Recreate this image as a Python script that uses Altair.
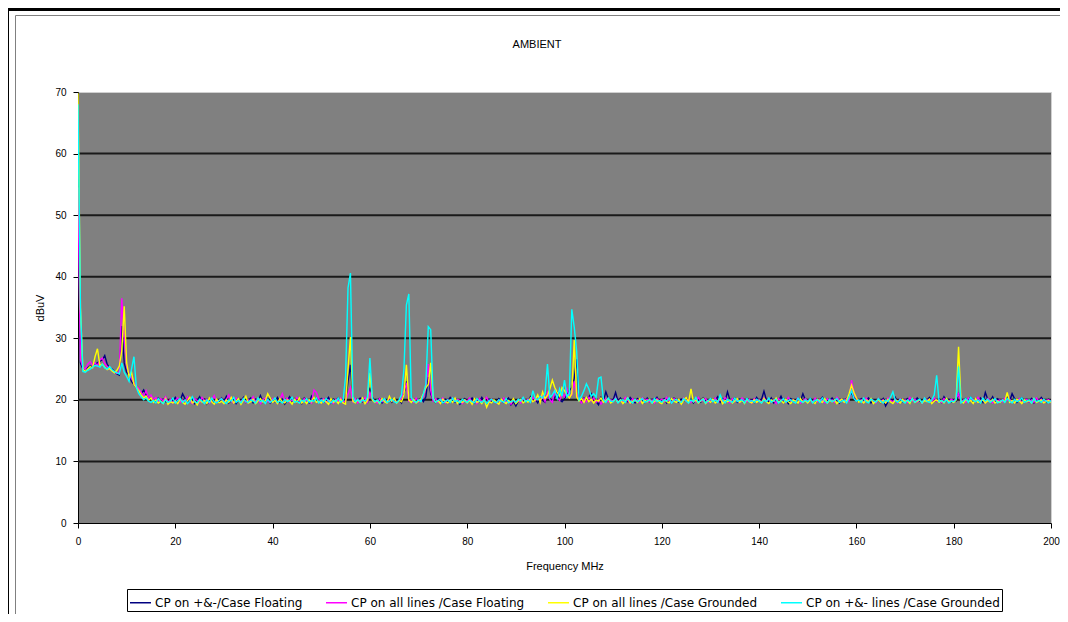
import altair as alt
import pandas as pd

# ---------------- data ----------------
series_names = [
    "CP on +&-/Case Floating",
    "CP on all lines /Case Floating",
    "CP on all lines /Case Grounded",
    "CP on +&- lines /Case Grounded",
]
series_colors = ["#000080", "#FF00FF", "#FFFF00", "#00FFFF"]
x_ticks = [0, 20, 40, 60, 80, 100, 120, 140, 160, 180, 200]
y_ticks = [0, 10, 20, 30, 40, 50, 60, 70]
grid_levels = [10, 20, 30, 40, 50, 60]
chart_title = "AMBIENT"
freq_start = 0.0
freq_step = 0.5  # MHz between samples

cp_pm_floating = [
    55.5, 26.0, 25.0, 24.8, 25.2, 25.5, 25.4, 25.8, 26.0, 26.3, 26.5, 27.2, 25.8, 25.2, 25.0, 24.6, 24.2, 24.0, 32.0, 26.0,
    24.5, 24.0, 23.0, 22.5, 22.0, 21.5, 21.0, 21.6, 20.8, 20.5, 20.2, 20.0, 19.8, 20.3, 19.6, 20.1, 19.7, 19.5, 20.0, 19.8,
    20.4, 19.6, 19.9, 21.0, 20.2, 19.5, 19.8, 20.3, 19.4, 19.9, 20.5, 19.7, 20.1, 19.3, 19.8, 20.2, 19.6, 20.0, 19.5, 20.3,
    19.8, 20.6, 19.5, 19.9, 20.2, 19.4, 20.0, 19.7, 20.4, 19.6, 19.9, 20.3, 19.5, 20.1, 19.8, 20.7, 19.6, 19.9, 20.2, 19.5,
    20.0, 19.7, 20.4, 19.6, 20.1, 19.3, 19.9, 20.5, 19.7, 20.2, 19.6, 20.0, 19.4, 20.3, 19.8, 19.5, 20.6, 19.9, 20.1, 19.7,
    20.2, 19.6, 19.9, 20.4, 19.5, 20.1, 19.8, 20.3, 19.7, 20.0, 19.6, 23.0, 25.7, 20.2, 19.5, 19.9, 20.3, 19.7, 20.0, 19.6,
    22.0, 20.4, 19.7, 19.9, 20.2, 19.5, 20.0, 19.8, 20.3, 19.6, 20.1, 19.7, 20.0, 19.5, 21.0, 23.0, 20.2, 19.8, 20.1, 19.6,
    19.9, 20.3, 19.7, 20.5, 23.7, 21.0, 20.0, 19.6, 20.2, 19.8, 19.5, 20.1, 19.7, 20.4, 19.9, 19.6, 20.0, 19.3, 19.8, 20.2,
    19.6, 19.9, 20.3, 19.5, 20.0, 19.7, 20.4, 19.8, 19.4, 20.1, 19.7, 20.0, 19.5, 20.2, 19.8, 19.6, 19.9, 20.3, 19.2, 19.7,
    19.0, 19.8, 20.2, 19.6, 20.0, 19.7, 20.5, 19.8, 20.1, 19.5, 20.3, 19.9, 19.6, 21.0, 20.2, 19.8, 20.4, 21.2, 20.0, 19.7,
    20.2, 20.8, 21.5, 22.0, 23.5, 26.6, 20.0, 19.6, 20.3, 19.8, 20.5, 21.0, 20.1, 19.7, 19.2, 20.4, 19.8, 21.3, 20.2, 19.9,
    20.0, 21.2, 19.8, 20.3, 19.6, 20.1, 19.7, 20.4, 19.9, 19.5, 20.2, 19.8, 20.0, 19.6, 20.3, 19.7, 20.1, 19.9, 20.4, 19.6,
    19.8, 20.2, 19.5, 20.0, 19.7, 20.3, 19.9, 19.6, 20.1, 19.8, 20.4, 19.7, 20.0, 19.5, 20.2, 19.9, 19.6, 20.3, 19.8, 20.0,
    19.7, 20.1, 19.9, 20.5, 19.6, 20.2, 19.8, 21.3, 20.0, 19.7, 20.3, 19.6, 20.1, 19.8, 19.5, 20.2, 19.9, 20.0, 19.6, 20.4,
    19.8, 20.1, 21.4, 20.0, 19.7, 20.3, 19.5, 20.1, 19.8, 20.6, 19.7, 20.0, 19.4, 20.2, 19.9, 19.6, 20.3, 19.8, 21.0, 20.0,
    19.7, 20.2, 19.8, 19.5, 20.1, 19.9, 20.4, 19.6, 20.0, 19.8, 20.3, 19.7, 20.1, 19.5, 20.0, 19.8, 20.2, 20.5, 21.2, 20.3,
    20.0, 19.7, 20.2, 19.6, 19.9, 20.3, 19.5, 20.0, 19.8, 20.1, 19.6, 20.2, 19.0, 19.7, 20.1, 19.8, 20.4, 19.6, 20.0, 19.7,
    19.9, 20.2, 19.5, 20.0, 19.7, 20.3, 19.8, 19.6, 20.1, 19.9, 20.4, 19.7, 20.0, 19.8, 20.2, 19.6, 20.5, 19.9, 20.1, 19.7,
    20.0, 19.8, 21.0, 20.3, 19.6, 20.2, 19.9, 20.4, 19.7, 20.0, 19.8, 20.3, 19.6, 21.2, 20.1, 19.8, 20.5, 19.7, 20.2, 19.9,
    20.0, 19.7, 20.4, 19.8, 21.0, 20.2, 19.6, 20.0, 20.3, 19.8, 20.1, 19.7, 20.2, 19.5, 20.0, 19.8, 20.4, 19.9, 19.6, 20.1,
    19.8,
]

cp_all_floating = [
    54.5, 26.5, 25.3, 25.0, 25.8, 26.2, 25.6, 26.0, 25.5, 26.5, 26.8, 25.9, 25.4, 25.1, 24.8, 24.5, 24.3, 24.6, 36.5, 30.0,
    25.5, 24.2, 23.5, 22.8, 22.2, 21.8, 21.2, 20.6, 21.5, 20.3, 20.8, 20.0, 20.4, 19.7, 20.2, 19.8, 20.5, 19.6, 20.1, 19.5,
    19.9, 20.3, 19.6, 20.0, 19.7, 20.5, 19.8, 19.4, 20.2, 19.9, 19.6, 20.4, 19.8, 20.1, 19.5, 20.0, 20.7, 19.7, 19.9, 20.2,
    19.6, 20.1, 20.8, 19.8, 19.5, 20.3, 19.9, 19.7, 20.2, 19.6, 20.0, 19.8, 20.5, 19.7, 20.1, 19.4, 20.0, 20.3, 19.8, 19.6,
    20.2, 19.9, 19.5, 20.1, 21.0, 19.8, 20.3, 19.6, 20.0, 19.7, 20.4, 19.9, 19.6, 20.2, 19.8, 20.0, 19.5, 21.6, 21.2, 20.1,
    19.8, 20.2, 19.6, 20.0, 19.7, 19.4, 20.1, 19.8, 20.3, 19.6, 19.9, 21.0, 22.0, 19.7, 20.2, 19.5, 20.0, 19.8, 20.4, 19.6,
    21.2, 20.1, 19.8, 19.5, 20.2, 19.7, 20.0, 19.6, 20.3, 19.8, 20.1, 19.6, 19.9, 20.2, 21.5, 22.5, 19.8, 20.1, 19.6, 20.3,
    19.7, 20.0, 20.5, 22.0, 25.8, 21.5, 19.8, 20.2, 19.6, 19.9, 20.3, 19.5, 20.0, 19.8, 20.2, 19.7, 20.1, 19.9, 19.4, 20.0,
    19.8, 20.3, 19.6, 20.0, 19.4, 20.2, 19.7, 19.9, 20.4, 19.6, 20.1, 19.8, 19.5, 20.0, 19.7, 20.3, 19.6, 19.8, 19.3, 20.1,
    19.6, 20.0, 19.5, 20.2, 19.8, 20.1, 19.7, 20.4, 19.9, 20.2, 19.8, 20.6, 19.7, 21.2, 20.0, 19.6, 21.5, 20.3, 19.9, 21.0,
    20.5, 21.8, 20.6, 20.8, 23.0, 21.0, 20.0, 19.5, 20.2, 19.7, 20.4, 19.8, 20.3, 19.6, 20.1, 19.3, 19.9, 20.2, 19.7, 20.0,
    19.8, 20.3, 19.6, 20.0, 19.7, 20.4, 19.9, 19.5, 20.2, 19.8, 20.0, 19.6, 20.3, 19.9, 20.1, 19.7, 20.0, 19.5, 20.2, 19.8,
    20.1, 19.7, 20.4, 19.8, 19.6, 20.2, 19.9, 20.0, 19.5, 20.3, 19.8, 20.1, 19.6, 20.0, 19.7, 20.4, 19.8, 19.9, 20.2, 19.6,
    20.0, 19.8, 20.3, 19.6, 20.1, 19.7, 20.4, 19.9, 19.5, 20.2, 19.8, 20.0, 19.6, 20.3, 19.9, 19.7, 20.1, 19.5, 20.2, 19.8,
    20.0, 19.6, 20.3, 19.8, 20.1, 19.7, 20.0, 19.4, 20.2, 19.9, 20.1, 19.6, 20.4, 19.8, 20.0, 19.7, 20.3, 19.5, 19.9, 20.2,
    19.8, 20.0, 19.6, 20.3, 19.7, 20.1, 19.9, 19.5, 20.2, 19.8, 20.0, 19.6, 20.4, 19.9, 20.1, 19.7, 20.2, 19.8, 23.2, 21.0,
    20.2, 19.8, 20.0, 19.6, 20.3, 19.7, 20.1, 19.9, 19.5, 20.2, 19.8, 20.0, 19.6, 20.3, 19.9, 19.7, 20.1, 19.5, 20.2, 19.8,
    20.0, 19.6, 20.4, 19.8, 20.1, 19.7, 20.0, 19.5, 20.2, 19.9, 20.1, 19.7, 20.3, 19.8, 20.0, 19.6, 20.2, 19.9, 19.7, 20.1,
    19.8, 20.2, 21.0, 19.7, 20.0, 19.6, 20.3, 19.9, 20.1, 19.7, 20.4, 19.8, 20.0, 19.6, 20.2, 19.9, 19.5, 20.1, 19.8, 20.0,
    19.7, 20.3, 19.9, 20.1, 19.6, 20.0, 19.8, 20.2, 19.5, 19.9, 20.1, 19.7, 20.0, 19.6, 20.3, 19.8, 20.1, 19.7, 19.9, 20.0,
    19.7,
]

cp_all_grounded = [
    69.8, 34.9, 25.0, 24.6, 25.0, 25.4, 25.2, 27.0, 28.3, 25.6, 25.8, 25.3, 24.9, 25.1, 24.7, 24.4, 24.8, 25.5, 28.0, 35.2,
    26.0, 23.8, 24.5, 22.5, 22.0, 21.5, 20.8, 20.3, 20.6, 19.9, 20.3, 19.6, 20.0, 19.5, 19.8, 19.4, 20.2, 19.3, 19.7, 19.5,
    19.8, 19.4, 20.1, 19.6, 19.3, 19.9, 20.4, 19.5, 19.8, 19.2, 20.0, 19.6, 19.9, 19.4, 20.3, 19.7, 19.3, 20.1, 19.5, 19.8,
    19.4, 20.0, 19.6, 20.4, 19.5, 19.8, 20.2, 19.3, 19.9, 20.6, 19.5, 19.7, 20.1, 19.4, 19.8, 20.2, 19.6, 19.9, 21.0, 20.3,
    19.6, 19.9, 19.4, 20.2, 19.7, 19.5, 20.0, 19.8, 19.3, 20.1, 19.6, 20.3, 19.5, 19.9, 19.4, 20.0, 19.7, 20.4, 19.6, 19.8,
    19.5, 20.0, 19.7, 19.3, 20.2, 19.6, 19.9, 19.4, 20.1, 19.5, 19.3, 25.0, 30.2, 19.8, 19.5, 20.0, 19.6, 20.3, 19.4, 19.9,
    24.4, 20.0, 19.6, 19.9, 19.4, 20.2, 19.7, 19.5, 20.6, 19.8, 20.3, 19.5, 19.9, 19.7, 20.8, 25.7, 20.0, 19.6, 20.1, 19.5,
    19.8, 20.2, 21.0, 22.0, 22.5, 26.0, 20.3, 19.6, 19.9, 19.4, 20.1, 19.7, 19.5, 20.0, 19.6, 20.3, 19.4, 19.8, 19.6, 20.0,
    19.5, 19.9, 19.3, 20.2, 19.6, 19.8, 19.4, 20.1, 18.8, 19.7, 19.5, 20.0, 19.6, 19.3, 20.1, 19.7, 19.4, 19.9, 19.6, 20.2,
    19.4, 19.8, 20.1, 19.5, 19.9, 19.6, 20.3, 19.7, 20.0, 20.8, 19.6, 21.3, 20.2, 20.7, 21.8, 23.2, 22.0, 21.2, 20.6, 22.0,
    21.5, 20.8, 20.3, 21.0, 29.7, 20.5, 19.8, 20.2, 19.6, 20.4, 19.7, 20.1, 19.5, 20.0, 19.8, 20.3, 19.6, 19.9, 20.2, 19.5,
    19.8, 20.1, 19.6, 20.0, 19.4, 19.9, 20.3, 19.5, 19.8, 20.0, 19.6, 20.2, 19.4, 19.9, 19.7, 20.1, 19.5, 19.8, 20.0, 19.6,
    19.4, 20.0, 19.7, 19.5, 20.2, 19.8, 19.6, 20.1, 19.3, 19.9, 20.4, 19.6, 21.8, 19.7, 20.0, 19.5, 19.8, 20.2, 19.4, 19.9,
    19.6, 20.1, 19.5, 19.8, 20.3, 19.4, 19.9, 19.7, 20.0, 19.5, 19.8, 20.2, 19.6, 19.9, 19.4, 20.1, 19.7, 19.5, 20.0, 19.6,
    19.9, 19.5, 20.2, 19.7, 19.4, 20.0, 19.8, 20.3, 19.6, 19.9, 19.5, 20.1, 19.7, 19.4, 20.0, 19.8, 19.5, 20.2, 19.6, 19.9,
    19.5, 20.0, 19.7, 19.4, 20.1, 19.8, 19.6, 20.2, 19.5, 19.9, 19.7, 20.0, 19.4, 19.8, 20.1, 19.6, 19.9, 21.0, 22.4, 21.2,
    20.3, 19.6, 19.9, 19.5, 20.0, 19.7, 20.2, 19.4, 19.8, 20.0, 19.6, 19.9, 19.5, 20.1, 19.7, 19.4, 20.0, 19.8, 19.5, 20.1,
    19.7, 19.9, 19.4, 20.2, 19.6, 19.8, 20.0, 19.5, 19.9, 19.7, 20.1, 19.4, 19.8, 20.0, 19.6, 19.9, 19.5, 20.2, 19.7, 19.8,
    19.6, 20.0, 28.6, 19.8, 19.5, 20.1, 19.7, 19.9, 19.4, 20.2, 19.6, 19.8, 20.0, 19.5, 19.9, 19.7, 20.1, 19.5, 19.8, 19.6,
    20.0, 19.7, 21.2, 19.6, 19.9, 19.5, 20.1, 19.8, 19.4, 20.0, 19.7, 19.9, 19.5, 20.2, 19.6, 19.8, 20.0, 19.5, 19.7, 19.9,
    19.6,
]

cp_pm_lines_grounded = [
    68.0, 35.0, 24.6, 24.5, 24.8, 25.0, 25.3, 25.6, 25.5, 25.3, 25.8, 25.2, 25.0, 25.4, 24.9, 24.6, 24.4, 24.2, 26.0, 24.5,
    23.8, 23.0, 25.0, 27.0, 22.0, 21.0, 20.5, 20.0, 20.3, 19.8, 19.6, 19.9, 19.5, 20.2, 19.7, 19.4, 20.0, 19.6, 19.8, 20.3,
    19.5, 19.9, 20.2, 19.6, 20.0, 19.4, 19.8, 20.5, 19.7, 19.5, 20.1, 19.8, 19.4, 20.0, 19.6, 20.3, 19.7, 19.5, 19.9, 20.2,
    19.7, 19.4, 20.0, 19.8, 20.4, 19.6, 19.9, 19.5, 20.2, 19.7, 19.6, 20.0, 19.8, 19.5, 20.3, 19.7, 19.9, 19.4, 20.1, 19.6,
    19.9, 20.3, 19.6, 19.8, 19.5, 20.1, 19.7, 19.9, 20.4, 19.6, 19.8, 19.5, 20.0, 19.7, 20.2, 19.6, 19.9, 19.8, 20.3, 19.5,
    20.0, 19.6, 20.2, 19.8, 19.5, 20.0, 19.7, 20.3, 19.6, 19.9, 23.8, 38.2, 40.6, 20.5, 19.7, 20.1, 19.6, 20.0, 19.8, 20.4,
    26.8, 20.3, 19.7, 20.0, 19.5, 19.9, 20.2, 19.6, 19.8, 20.1, 19.7, 19.5, 20.0, 20.8, 25.0, 35.4, 37.2, 20.4, 19.8, 19.6,
    20.0, 19.7, 21.0, 22.5, 31.9, 31.4, 20.2, 19.6, 19.9, 20.1, 19.5, 19.8, 20.0, 19.6, 20.3, 19.7, 19.9, 19.5, 20.1, 19.8,
    19.6, 20.0, 19.7, 19.5, 20.2, 19.8, 19.6, 20.0, 19.4, 19.9, 20.1, 19.7, 19.5, 20.0, 19.8, 19.6, 20.2, 19.5, 19.7, 19.9,
    19.6, 20.1, 19.8, 20.4, 19.7, 20.0, 19.6, 21.5, 20.2, 20.0, 20.6, 20.3, 21.0, 25.8, 20.4, 20.8, 21.5, 20.2, 21.8, 20.6,
    23.2, 20.5, 21.0, 34.7, 31.8, 27.9, 20.0, 20.6, 21.5, 22.6, 21.8, 20.6, 21.0, 20.4, 23.5, 23.7, 20.0, 19.6, 20.3, 19.8,
    19.7, 20.2, 19.5, 19.9, 20.0, 19.6, 20.3, 19.8, 19.5, 20.1, 19.7, 19.9, 20.2, 19.6, 19.8, 20.0, 19.5, 20.2, 19.7, 19.9,
    19.6, 20.0, 19.8, 20.3, 19.5, 19.9, 20.1, 19.7, 19.6, 20.2, 19.8, 19.5, 20.0, 19.7, 20.4, 19.6, 19.9, 20.1, 19.5, 19.8,
    20.2, 19.7, 20.0, 19.6, 20.8, 19.9, 19.5, 20.1, 19.8, 19.6, 20.3, 19.7, 19.9, 20.0, 19.5, 20.2, 19.7, 19.9, 19.6, 20.1,
    19.8, 19.5, 20.0, 19.7, 20.3, 19.6, 19.9, 20.1, 19.5, 19.8, 20.2, 19.6, 19.9, 20.0, 19.7, 19.5, 20.3, 19.8, 19.6, 20.0,
    19.7, 20.2, 19.5, 19.9, 20.0, 19.6, 20.3, 19.8, 19.5, 20.1, 19.7, 19.9, 20.2, 19.6, 19.8, 20.0, 19.5, 20.4, 21.5, 20.2,
    19.8, 20.0, 19.6, 20.3, 19.7, 19.5, 20.1, 19.9, 19.6, 20.2, 19.8, 19.5, 20.0, 19.7, 20.4, 21.3, 19.9, 19.6, 20.1, 19.8,
    19.5, 20.0, 19.7, 20.2, 19.6, 19.9, 20.1, 19.5, 20.3, 19.8, 19.6, 20.0, 20.8, 24.0, 19.7, 19.9, 19.6, 20.0, 19.5, 19.8,
    19.7, 20.1, 25.4, 19.5, 19.8, 20.2, 19.6, 20.4, 19.9, 19.7, 20.0, 19.5, 20.3, 19.8, 20.1, 19.6, 19.9, 20.2, 19.5, 19.7,
    20.0, 19.6, 20.2, 19.8, 19.5, 20.1, 19.7, 19.9, 20.3, 19.6, 19.8, 20.0, 19.5, 20.2, 19.7, 19.9, 19.6, 20.1, 19.8, 19.5,
    19.9,
]

# ---------------- table ----------------
all_series = [cp_pm_floating, cp_all_floating, cp_all_grounded, cp_pm_lines_grounded]
rows = []
for name, values in zip(series_names, all_series):
    for i, v in enumerate(values):
        rows.append({"freq": freq_start + i * freq_step, "level": v, "series": name})
df = pd.DataFrame(rows)

FONT = "Liberation Sans"

x_scale = alt.Scale(domain=[0, 200], nice=False, zero=False)
y_scale = alt.Scale(domain=[0, 70], nice=False)

x_axis = alt.Axis(
    values=x_ticks, title="Frequency MHz", grid=False, tickSize=5,
    labelPadding=8, titlePadding=14, labelFlush=False,
)
y_axis = alt.Axis(
    values=y_ticks, title="dBuV", grid=False, tickSize=5,
    labelPadding=7, titlePadding=9, labelFlush=False,
)

grid = alt.Chart(pd.DataFrame({"g": grid_levels})).mark_rule(
    color="#1a1a1a", strokeWidth=2
).encode(y=alt.Y("g:Q", scale=y_scale, axis=y_axis, title="dBuV"))

lines = alt.Chart(df).mark_line(strokeWidth=1.4, clip=True).encode(
    x=alt.X("freq:Q", scale=x_scale, axis=x_axis, title="Frequency MHz"),
    y=alt.Y("level:Q", scale=y_scale, axis=y_axis, title="dBuV"),
    color=alt.Color(
        "series:N",
        scale=alt.Scale(domain=series_names, range=series_colors),
        sort=series_names,
        legend=alt.Legend(
            orient="none", legendX=49, legendY=497, direction="horizontal",
            title=None, symbolType="stroke", symbolSize=441, symbolStrokeWidth=1.5,
            labelFont="DejaVu Sans", labelFontSize=12, labelColor="black",
            labelLimit=0, labelOffset=3, columnPadding=20, padding=2,
            strokeColor="black", fillColor="white",
        ),
    ),
)

title_src = pd.DataFrame({"t": [chart_title]})
title_mark = alt.Chart(title_src).mark_text(
    font=FONT, fontSize=11, color="black", align="center", baseline="middle"
).encode(text="t:N", x=alt.value(459), y=alt.value(-47))

frame_src = pd.DataFrame({"k": [0]})
frame_top = alt.Chart(frame_src).mark_rule(color="black", strokeWidth=3).encode(
    x=alt.value(-70), x2=alt.value(990), y=alt.value(-82.5)
)
frame_left = alt.Chart(frame_src).mark_rule(color="black", strokeWidth=2).encode(
    x=alt.value(-70), y=alt.value(-84), y2=alt.value(530)
)
inner_top = alt.Chart(frame_src).mark_rule(color="#808080", strokeWidth=1).encode(
    x=alt.value(-62.5), x2=alt.value(990), y=alt.value(-76.5)
)
inner_left = alt.Chart(frame_src).mark_rule(color="#808080", strokeWidth=1).encode(
    x=alt.value(-62.5), y=alt.value(-76.5), y2=alt.value(530)
)

chart = alt.layer(
    grid, lines, title_mark, frame_top, frame_left, inner_top, inner_left
).properties(
    width=973,
    height=431,
    autosize=alt.AutoSizeParams(type="none"),
    padding={"left": 70, "top": 84, "right": 9, "bottom": 91},
    background="white",
).configure_view(
    fill="#808080", stroke="#d0d0d0", strokeWidth=1
).configure_axis(
    domainColor="black", domainWidth=1, tickColor="black", labelColor="black",
    titleColor="black", labelFont=FONT, labelFontSize=10, titleFont=FONT,
    titleFontSize=11, titleFontWeight="normal",
)

chart.save("out.html", embed_options={"renderer": "svg", "actions": False})
